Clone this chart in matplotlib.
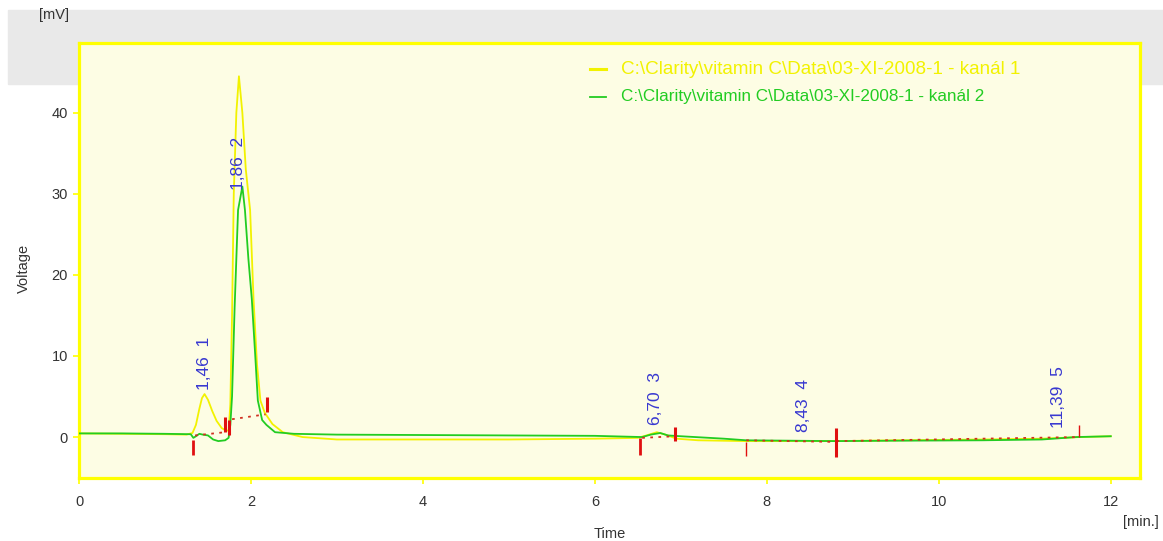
import numpy as np
import matplotlib.pyplot as plt
from matplotlib.patches import Rectangle

plt.rcParams['font.family'] = ['Liberation Sans', 'DejaVu Sans']

# channel 1 (yellow) trace, time [min] / voltage [mV]
t_ch1 = [0.0, 0.5, 1.0, 1.25, 1.32, 1.36, 1.40, 1.43, 1.46, 1.50, 1.55, 1.60, 1.66, 1.71,
         1.74, 1.76, 1.78, 1.80, 1.83, 1.86, 1.90, 1.94, 1.99, 2.03, 2.07, 2.11, 2.16,
         2.25, 2.37, 2.6, 3.0, 3.5, 4.0, 5.0, 6.0, 6.5, 6.6, 6.72, 6.82, 6.95, 7.2, 7.75,
         8.4, 8.8, 9.5, 10.5, 11.2, 11.65, 12.0]
v_ch1 = [0.45, 0.4, 0.35, 0.3, 0.5, 1.5, 3.5, 4.8, 5.3, 4.6, 3.2, 2.0, 1.1, 0.8,
         0.8, 4.0, 15.0, 30.0, 40.0, 44.5, 40.0, 33.0, 28.0, 17.0, 9.0, 4.5, 3.0,
         1.6, 0.6, 0.0, -0.3, -0.3, -0.3, -0.3, -0.2, -0.1, 0.2, 0.6, 0.3, -0.2, -0.4, -0.5,
         -0.5, -0.5, -0.4, -0.3, -0.2, 0.0, 0.1]

# channel 2 (green) trace
t_ch2 = [0.0, 0.5, 1.0, 1.30, 1.33, 1.36, 1.40, 1.44, 1.50, 1.56, 1.62, 1.70, 1.74,
         1.76, 1.78, 1.81, 1.85, 1.90, 1.93, 1.97, 2.01, 2.05, 2.08, 2.13, 2.18, 2.28,
         2.5, 3.0, 4.0, 5.0, 6.0, 6.55, 6.65, 6.76, 6.85, 7.0, 7.5, 7.76, 8.8, 9.5, 10.5,
         11.2, 11.6, 12.0]
v_ch2 = [0.45, 0.45, 0.4, 0.35, -0.1, 0.1, 0.4, 0.3, 0.2, -0.3, -0.5, -0.4, -0.1,
         1.5, 5.0, 16.0, 28.0, 30.9, 28.0, 22.0, 17.0, 10.0, 4.5, 2.1, 1.5, 0.6,
         0.4, 0.3, 0.25, 0.2, 0.15, 0.0, 0.3, 0.5, 0.2, 0.1, -0.2, -0.4, -0.5, -0.45, -0.4,
         -0.3, 0.0, 0.1]

# integration marks: time, bottom, top, width
mark_t = [1.33, 1.70, 1.74, 2.19, 6.52, 6.93, 7.76, 8.81, 11.63]
mark_lo = [-2.2, 0.6, 0.2, 3.1, -2.2, -0.5, -2.3, -2.5, 0.0]
mark_hi = [-0.4, 2.5, 2.1, 4.9, -0.1, 1.2, -0.6, 1.1, 1.5]
mark_w = [2.0, 2.2, 2.2, 2.2, 2.0, 2.2, 1.0, 2.2, 1.0]

# peak baselines (start t, start v, end t, end v)
base_t0 = [1.35, 1.78, 6.55, 7.76, 8.81]
base_v0 = [0.2, 2.2, -0.1, -0.4, -0.5]
base_t1 = [1.70, 2.17, 6.93, 8.81, 11.63]
base_v1 = [0.6, 2.8, 0.1, -0.6, 0.0]

# peak labels
peak_rt = [1.46, 1.86, 6.70, 8.43, 11.39]
peak_num = [1, 2, 3, 4, 5]
label_y = [5.8, 30.5, 1.5, 0.6, 1.1]

yellow = '#f2f200'
green = '#22cc22'

fig = plt.figure(figsize=(11.63, 5.41), dpi=100)
fig.patches.append(Rectangle((8 / 1163, 1 - 84 / 541), 1 - 8 / 1163, 74 / 541,
                             transform=fig.transFigure, color='#e9e9e9', zorder=-1))

ax = fig.add_axes([79 / 1163, 1 - 478 / 541, (1140 - 79) / 1163, (478 - 43) / 541])
ax.set_zorder(1)
ax.set_facecolor('#fdfde4')
ax.set_xlim(0, 12.34)
ax.set_ylim(-5.05, 48.6)

ax.plot(t_ch1, v_ch1, color=yellow, lw=1.3, zorder=3)
ax.plot(t_ch2, v_ch2, color=green, lw=1.3, zorder=4)

for a, b, c, d in zip(base_t0, base_v0, base_t1, base_v1):
    ax.plot([a, c], [b, d], color='#d03020', lw=1.3, ls=(0, (1.5, 3)), zorder=5)

for t, lo, hi, w in zip(mark_t, mark_lo, mark_hi, mark_w):
    ax.plot([t, t], [lo, hi], color='#e01010', lw=w, solid_capstyle='butt', zorder=6)

for rt, n, y in zip(peak_rt, peak_num, label_y):
    lab = f'{rt:.2f}'.replace('.', ',') + f'  {n}'
    ax.text(rt, y, lab, rotation=90, ha='center', va='bottom', color='#3838d0',
            fontsize=12.5, zorder=7)

for s in ax.spines.values():
    s.set_color('#ffff00')
    s.set_linewidth(2.3)

ax.set_xticks(range(0, 13, 2))
ax.set_yticks(range(0, 41, 10))
ax.tick_params(direction='out', length=4, width=1.2, color='#ffff00',
               labelcolor='#333333', labelsize=10.5)
ax.tick_params(axis='x', pad=8)
ax.tick_params(axis='y', pad=4)

# legend drawn by hand, in the trace colours
fig.lines.append(plt.Line2D([590 / 1163, 606 / 1163], [1 - 69 / 541] * 2,
                            transform=fig.transFigure, color=yellow, lw=2.2, zorder=2))
fig.text(621 / 1163, 1 - 69 / 541, 'C:\\Clarity\\vitamin C\\Data\\03-XI-2008-1 - kanál 1',
         color=yellow, fontsize=13.6, va='center', ha='left', zorder=2)
fig.lines.append(plt.Line2D([590 / 1163, 606 / 1163], [1 - 97 / 541] * 2,
                            transform=fig.transFigure, color=green, lw=1.3, zorder=2))
fig.text(621 / 1163, 1 - 97 / 541, 'C:\\Clarity\\vitamin C\\Data\\03-XI-2008-1 - kanál 2',
         color=green, fontsize=12.3, va='center', ha='left', zorder=2)

fig.text(54 / 1163, 1 - 15 / 541, '[mV]', color='#333333', fontsize=10.5, ha='center', va='center')
fig.text(24 / 1163, 1 - 268 / 541, 'Voltage', color='#333333', fontsize=10.5,
         rotation=90, ha='center', va='center')
fig.text(610 / 1163, 1 - 534 / 541, 'Time', color='#333333', fontsize=10.5, ha='center', va='center')
fig.text(1141 / 1163, 1 - 522 / 541, '[min.]', color='#333333', fontsize=10.5, ha='center', va='center')

fig.savefig('out.png', dpi=100)
